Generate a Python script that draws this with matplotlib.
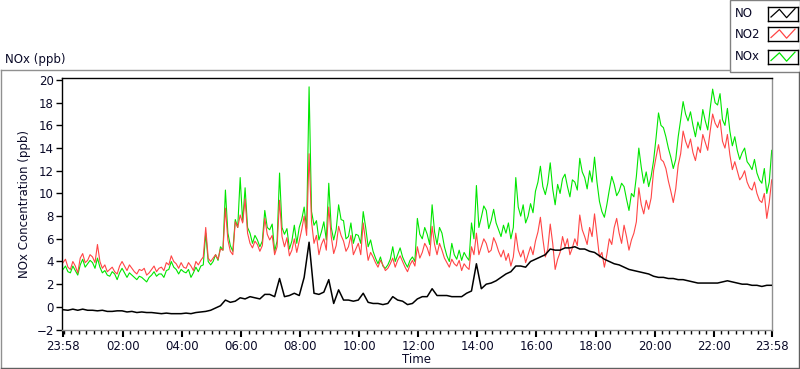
import numpy as np
import matplotlib.pyplot as plt
from matplotlib.patches import Rectangle
from matplotlib.lines import Line2D

# values read every 10 min, starting 23:58 (hours since start)
no2 = [3.9, 3.5, 4.0, 3.0, 4.7, 4.1,
       4.4, 5.5, 3.4, 3.1, 3.5, 2.9,
       4.0, 3.2, 3.4, 2.9, 3.2, 2.8,
       3.3, 3.1, 3.5, 3.9, 4.5, 3.8,
       3.9, 3.4, 3.6, 4.0, 4.1, 7.0,
       4.0, 4.6, 5.1, 8.7, 4.9, 7.5,
       8.1, 9.5, 5.6, 5.8, 4.9, 7.8,
       5.9, 4.6, 9.4, 5.3, 4.5, 6.0,
       5.8, 8.0, 13.5, 5.6, 4.6, 6.0,
       8.8, 4.7, 7.1, 5.8, 5.3, 4.6,
       5.6, 7.4, 4.1, 4.4, 3.5, 3.7,
       3.4, 4.3, 4.1, 4.0, 3.1, 4.1,
       5.3, 4.8, 5.2, 7.1, 4.6, 5.0,
       3.9, 4.2, 3.6, 3.2, 3.5, 5.3,
       6.5, 5.3, 5.6, 5.0, 5.6, 4.4,
       4.1, 3.6, 6.5, 4.4, 3.9, 5.3,
       5.8, 7.9, 4.4, 7.3, 3.3, 4.8,
       5.3, 4.6, 6.0, 8.1, 6.2, 7.0,
       8.2, 4.4, 3.5, 6.0, 7.0, 6.5,
       7.2, 5.0, 6.5, 10.5, 8.2, 8.6,
       12.0, 14.3, 12.8, 11.1, 9.2, 12.5,
       15.5, 14.0, 13.6, 14.1, 15.2, 13.8,
       17.0, 15.8, 14.6, 15.2, 12.1, 12.0,
       11.5, 11.0, 10.3, 10.0, 9.2, 7.8,
       11.2]
# readings in between (5 min after each of the above)
no2_mid = [4.2, 3.3, 3.6, 4.3, 3.9, 4.6,
           3.9, 4.0, 3.7, 3.3, 3.1, 3.6,
           3.6, 3.7, 3.1, 3.3, 3.4, 3.0,
           3.6, 3.4, 3.2, 3.7, 4.0, 3.4,
           3.5, 3.9, 3.2, 3.7, 4.4, 4.3,
           4.3, 4.2, 5.0, 5.9, 4.6, 7.0,
           7.4, 6.5, 5.2, 5.5, 5.4, 6.4,
           6.3, 5.3, 6.2, 6.1, 5.0, 4.8,
           6.8, 6.3, 7.5, 6.3, 5.5, 5.0,
           6.2, 5.4, 6.3, 4.9, 6.3, 5.1,
           4.6, 5.7, 4.8, 3.9, 4.1, 3.2,
           3.8, 3.5, 4.5, 3.5, 3.7, 3.6,
           4.3, 5.6, 4.5, 5.5, 5.6, 4.3,
           3.5, 3.8, 4.1, 3.8, 3.3, 4.6,
           4.6, 6.0, 4.8, 6.1, 4.9, 5.0,
           4.7, 4.4, 5.0, 5.0, 4.6, 4.6,
           6.6, 6.0, 5.1, 5.6, 4.2, 6.2,
           6.0, 5.2, 5.4, 6.8, 5.5, 6.2,
           6.3, 4.8, 4.6, 5.5, 7.8, 5.6,
           6.2, 5.9, 7.5, 9.0, 9.4, 9.6,
           13.2, 13.0, 12.2, 10.2, 10.4, 13.5,
           14.6, 14.8, 12.9, 13.6, 14.5, 15.5,
           16.2, 16.5, 14.0, 13.4, 12.8, 11.2,
           12.0, 10.5, 11.0, 9.4, 10.0, 9.2]
nox = [3.3, 3.1, 3.6, 2.8, 4.2, 3.8,
       3.9, 4.3, 3.0, 2.8, 3.1, 2.4,
       3.4, 2.6, 2.8, 2.4, 2.6, 2.2,
       2.8, 2.7, 2.9, 3.2, 4.0, 3.3,
       3.3, 3.0, 2.6, 3.5, 3.6, 6.5,
       3.7, 4.6, 5.3, 10.3, 5.4, 7.7,
       11.4, 10.5, 6.5, 6.3, 5.3, 8.5,
       6.8, 4.9, 11.8, 6.4, 5.1, 7.2,
       7.0, 8.8, 19.4, 7.2, 5.9, 7.5,
       10.9, 5.9, 9.0, 7.6, 6.2, 5.6,
       6.3, 8.4, 5.3, 4.9, 3.8, 3.6,
       3.7, 5.3, 4.6, 4.4, 3.5, 4.4,
       7.8, 6.0, 6.4, 9.0, 5.5, 6.5,
       4.5, 5.6, 4.2, 4.1, 4.4, 7.4,
       10.7, 7.9, 8.5, 7.6, 7.4, 6.2,
       6.5, 6.0, 11.4, 8.0, 7.4, 9.1,
       10.2, 12.4, 9.9, 12.7, 9.0, 10.0,
       11.7, 9.7, 11.0, 13.1, 11.4, 12.0,
       13.2, 9.3, 7.9, 10.3, 10.8, 10.2,
       10.6, 8.5, 9.7, 14.0, 10.9, 10.6,
       12.9, 17.1, 15.8, 14.0, 12.2, 15.0,
       18.1, 16.4, 16.0, 16.3, 17.4, 15.6,
       19.2, 17.8, 16.5, 17.5, 14.2, 13.8,
       13.6, 12.8, 12.1, 11.8, 10.9, 10.0,
       13.8]
nox_mid = [3.6, 3.0, 3.2, 3.7, 3.5, 4.1,
           3.4, 3.5, 3.2, 2.7, 2.9, 3.0,
           3.0, 3.0, 2.6, 2.7, 2.4, 2.6,
           3.1, 2.9, 2.6, 3.3, 3.5, 2.9,
           3.1, 3.3, 3.0, 3.1, 3.7, 4.0,
           4.0, 4.1, 5.0, 6.5, 4.9, 7.0,
           7.5, 7.0, 5.6, 5.9, 5.8, 7.0,
           7.3, 5.8, 7.0, 6.9, 5.8, 5.6,
           7.7, 6.9, 8.4, 7.6, 6.6, 5.9,
           7.0, 6.8, 7.7, 6.0, 7.4, 6.4,
           5.6, 7.0, 5.9, 4.3, 4.4, 3.4,
           4.2, 4.0, 5.2, 3.9, 4.1, 4.0,
           6.4, 7.0, 5.5, 6.6, 7.0, 5.3,
           4.0, 4.6, 5.0, 4.8, 4.1, 6.0,
           7.0, 8.9, 6.9, 8.6, 6.8, 7.2,
           7.4, 7.0, 8.8, 9.0, 8.0, 8.3,
           11.0, 10.6, 10.9, 10.4, 10.8, 11.3,
           10.6, 11.2, 10.3, 11.9, 10.4, 11.0,
           11.0, 8.4, 9.0, 11.5, 9.8, 10.9,
           9.5, 10.0, 11.5, 12.3, 11.9, 11.5,
           14.9, 16.0, 15.0, 13.2, 13.0, 16.5,
           17.0, 17.2, 15.0, 15.6, 16.4, 17.5,
           18.0, 18.8, 16.0, 15.5, 15.0, 13.0,
           14.0, 12.5, 13.0, 11.2, 12.2, 11.0]
no = [-0.25, -0.3, -0.2, -0.3, -0.2, -0.3,
      -0.3, -0.35, -0.3, -0.4, -0.4, -0.35,
      -0.35, -0.45, -0.4, -0.5, -0.45, -0.5,
      -0.5, -0.55, -0.6, -0.55, -0.6, -0.6,
      -0.6, -0.55, -0.6, -0.5, -0.45, -0.4,
      -0.3, -0.1, 0.1, 0.6, 0.4, 0.5,
      0.8, 0.7, 0.9, 0.8, 0.7, 1.1,
      1.1, 0.9, 2.5, 0.9, 1.0, 1.2,
      1.0, 2.6, 5.7, 1.2, 1.1, 1.3,
      2.4, 0.3, 1.5, 0.6, 0.6, 0.5,
      0.6, 1.2, 0.4, 0.3, 0.3, 0.2,
      0.3, 0.9, 0.6, 0.5, 0.2, 0.3,
      0.7, 0.9, 0.9, 1.6, 1.0, 1.0,
      1.0, 0.9, 0.9, 0.9, 1.2, 1.4,
      3.8, 1.6, 2.0, 2.1, 2.3, 2.6,
      2.9, 3.1, 3.6, 3.6, 3.5, 4.0,
      4.2, 4.4, 4.6, 5.1, 5.0, 5.0,
      5.2, 5.2, 5.3, 5.1, 5.1, 4.9,
      4.8, 4.5, 4.2, 4.0, 3.8, 3.7,
      3.5, 3.3, 3.2, 3.1, 3.0, 2.9,
      2.7, 2.6, 2.6, 2.5, 2.5, 2.4,
      2.4, 2.3, 2.2, 2.1, 2.1, 2.1,
      2.1, 2.1, 2.2, 2.3, 2.2, 2.1,
      2.0, 2.0, 1.9, 1.9, 1.8, 1.9,
      1.9]

tick_labels = ['23:58', '02:00', '04:00', '06:00', '08:00', '10:00', '12:00',
               '14:00', '16:00', '18:00', '20:00', '22:00', '23:58']
legend_names = ['NO', 'NO2', 'NOx']
colors = ['black', '#ff4545', '#00e600']


def merge(main, mid):
    out = np.empty(len(main) + len(mid))
    out[0::2] = main
    out[1::2] = mid
    return out


t = np.arange(len(no)) / 6.0
t5 = np.arange(2 * len(no) - 1) / 12.0
txt = '#0a0a28'

plt.rcParams['font.family'] = 'DejaVu Sans'
fig = plt.figure(figsize=(8, 3.69), dpi=100)
ax = fig.add_axes([62/800, 1-330/369, 710/800, 252/369])

ax.plot(t5, merge(nox, nox_mid), color=colors[2], lw=0.8, zorder=1)
ax.plot(t5, merge(no2, no2_mid), color=colors[1], lw=0.8, zorder=2)
ax.plot(t, no, color=colors[0], lw=1.1, zorder=3)

ax.set_xlim(-0.034, 24.01)
ax.set_ylim(-2.04, 20.18)
ax.set_yticks(range(-2, 21, 2))
major = [0] + [2 * i + 2/60 for i in range(1, 12)] + [24]
ax.set_xticks(major)
ax.set_xticklabels(tick_labels)
ax.set_xticks([2/60 + 0.25 * j for j in range(96)], minor=True)
ax.tick_params(axis='both', which='major', direction='out', length=4, width=1,
               labelsize=8.5, labelcolor=txt, pad=2)
ax.tick_params(axis='x', which='minor', direction='out', length=3, width=1)
ax.tick_params(axis='x', which='major', length=5, width=1.5)
for s in ['top', 'left']:
    ax.spines[s].set_color('black')
for s in ['bottom', 'right']:
    ax.spines[s].set_color('#909090')
for s in ax.spines.values():
    s.set_linewidth(1)

ax.set_ylabel('NOx Concentration (ppb)', fontsize=8.5, color=txt, labelpad=4)
ax.set_xlabel('Time', fontsize=8.5, color=txt, labelpad=0.5)

# outer frame and title
fig.add_artist(Line2D([0.5/800, 730/800], [1-70/369, 1-70/369], color='#909090', lw=1))
fig.add_artist(Line2D([0.5/800, 0.5/800], [1-70/369, 1-368/369], color='#909090', lw=1))
fig.add_artist(Line2D([0.5/800, 799/800], [1-368/369, 1-368/369], color='#606060', lw=1))
fig.add_artist(Line2D([799/800, 799/800], [1-368/369, 1-72/369], color='#606060', lw=1))
fig.text(5/800, 1-59/369, 'NOx (ppb)', fontsize=8.5, color=txt, va='center', ha='left')

# legend box
fig.add_artist(Rectangle((730/800, 1-72/369), 69.5/800, 72/369, transform=fig.transFigure,
                         fill=False, edgecolor='#808080', lw=1))
for i, (name, c) in enumerate(zip(legend_names, colors)):
    yc = [13.5, 34, 57][i]
    fig.text(735/800, 1-yc/369, name, fontsize=8.5, color=txt, va='center', ha='left')
    sw = fig.add_axes([768/800, 1-(yc+7)/369, 30/800, 14/369])
    sw.plot([0.1, 0.38, 0.62, 0.9], [0.25, 0.8, 0.2, 0.85], color=c, lw=0.9)
    sw.set_xlim(0, 1)
    sw.set_ylim(0, 1)
    sw.set_xticks([])
    sw.set_yticks([])
    for s in sw.spines.values():
        s.set_color('black')
        s.set_linewidth(1)

fig.savefig('out.png', dpi=100)
